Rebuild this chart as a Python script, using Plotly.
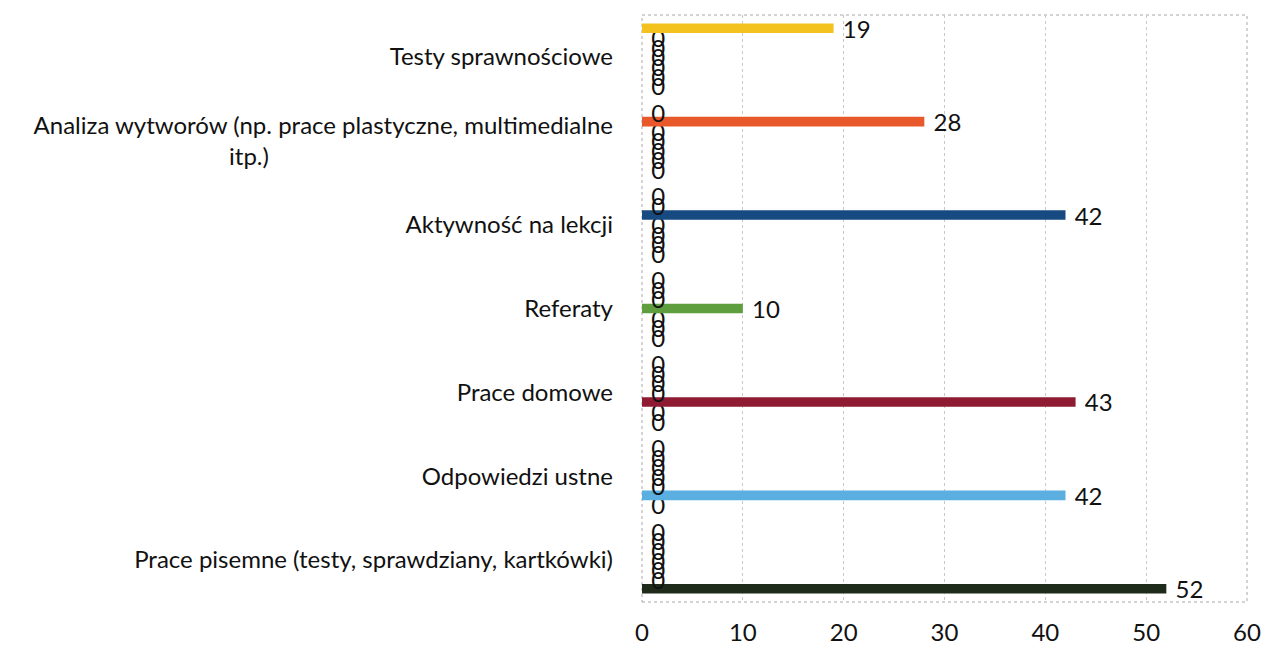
import plotly.graph_objects as go

# Categories, bottom to top
categories = [
    "Prace pisemne (testy, sprawdziany, kartkówki)",
    "Odpowiedzi ustne",
    "Prace domowe",
    "Referaty",
    "Aktywność na lekcji",
    "Analiza wytworów (np. prace plastyczne, multimedialne<br>itp.)" + "\u00a0" * 56,
    "Testy sprawnościowe",
]

# One series per category (Excel-style), zeros elsewhere
s_prace_pisemne = [52, 0, 0, 0, 0, 0, 0]
s_odpowiedzi    = [0, 42, 0, 0, 0, 0, 0]
s_prace_domowe  = [0, 0, 43, 0, 0, 0, 0]
s_referaty      = [0, 0, 0, 10, 0, 0, 0]
s_aktywnosc     = [0, 0, 0, 0, 42, 0, 0]
s_analiza       = [0, 0, 0, 0, 0, 28, 0]
s_testy         = [0, 0, 0, 0, 0, 0, 19]

series = [s_prace_pisemne, s_odpowiedzi, s_prace_domowe, s_referaty,
          s_aktywnosc, s_analiza, s_testy]
colors = ["#1E2B1A", "#5AAEE0", "#8E1B32", "#5E9E3E",
          "#164A80", "#E8582A", "#F4C21F"]

x_ticks = [0, 10, 20, 30, 40, 50, 60]

FONT = "Lato"
SIZE = 24
fig = go.Figure()
for vals, col in zip(series, colors):
    fig.add_trace(go.Bar(
        y=categories, x=vals, orientation="h",
        marker=dict(color=col, line=dict(width=0)),
        text=[f"\u00a0{v}" for v in vals],
        textposition="outside",
        constraintext="none",
        cliponaxis=False,
        textfont=dict(family=FONT, size=SIZE, color="#111111"),
        showlegend=False,
    ))

fig.update_layout(
    width=1265, height=650,
    barmode="group", bargap=0.2, bargroupgap=0,
    margin=dict(l=642, r=18, t=15, b=48, autoexpand=False),
    paper_bgcolor="white", plot_bgcolor="white",
    font=dict(family=FONT, size=SIZE, color="#111111"),
    xaxis=dict(range=[0, 60], tickvals=x_ticks, showgrid=True,
               gridcolor="#c8c8c8", griddash="dot", gridwidth=1,
               zeroline=False, showline=False, ticks="", automargin=False,
               ticklabelstandoff=14,
               tickfont=dict(family=FONT, size=SIZE, color="#111111")),
    yaxis=dict(showgrid=False, zeroline=False, showline=False, ticks="",
               automargin=False, ticklabelstandoff=28,
               tickfont=dict(family=FONT, size=SIZE, color="#111111")),
    shapes=[dict(type="rect", xref="paper", yref="paper", x0=0, x1=1, y0=0, y1=1,
                 line=dict(color="#a8a8a8", width=1, dash="dot"), layer="below")],
)

fig.write_html("out.html",
               config={"displayModeBar": False},
               post_script="document.body.style.margin='0';document.body.style.overflow='hidden';")
